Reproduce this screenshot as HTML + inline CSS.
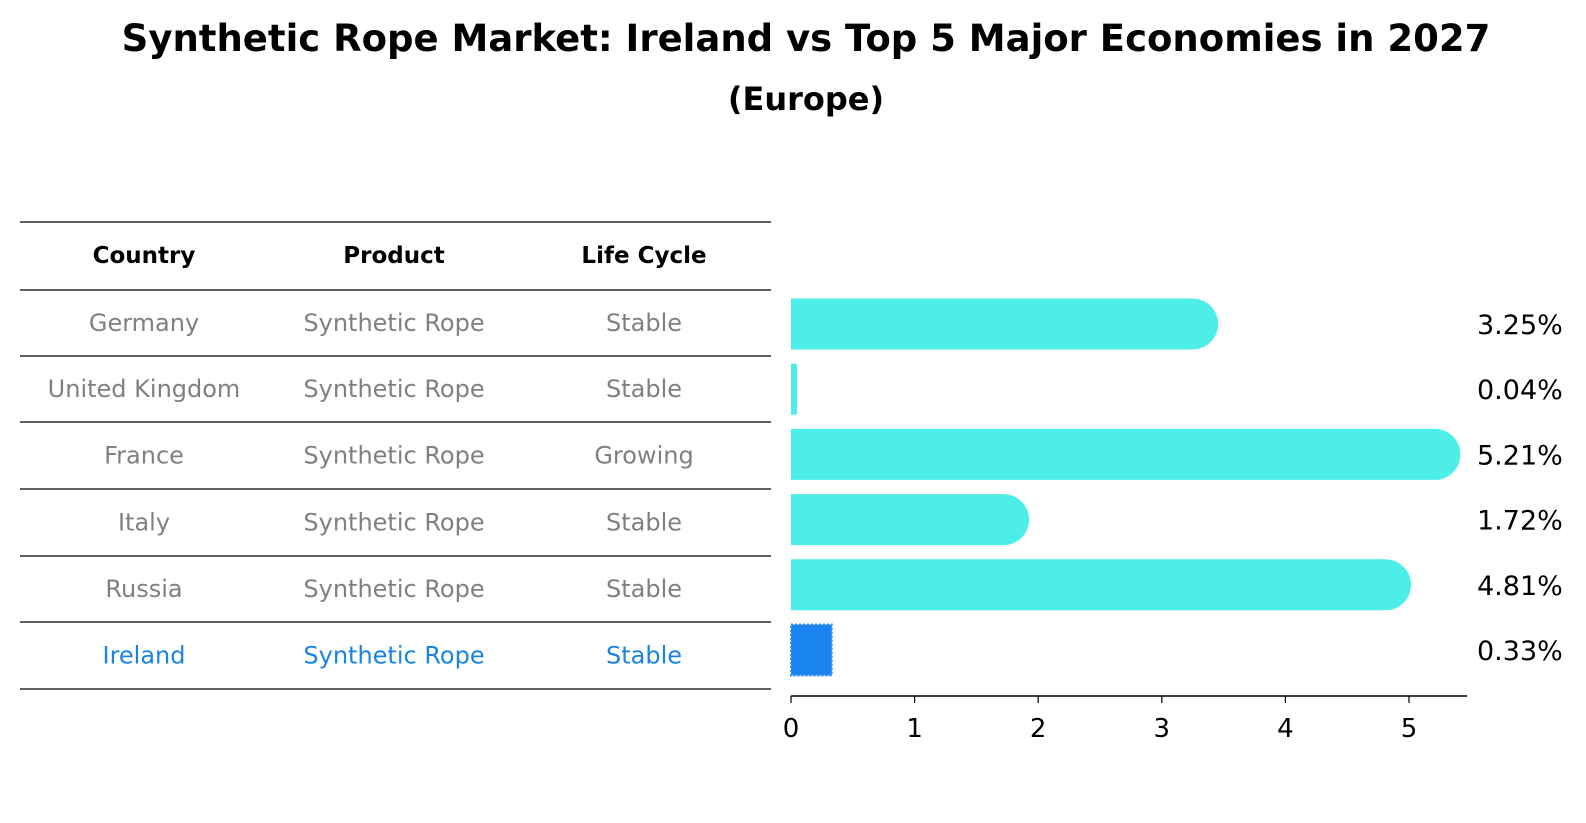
<!DOCTYPE html>
<html><head><meta charset="utf-8"><style>
body{margin:0;background:#fff;font-family:"DejaVu Sans","Liberation Sans",sans-serif;}
svg{display:block}
</style></head><body>
<svg id="c" width="1586" height="823" xmlns="http://www.w3.org/2000/svg">
<text x="806" y="51" text-anchor="middle" font-size="37" font-weight="bold">Synthetic Rope Market: Ireland vs Top 5 Major Economies in 2027</text>
<text x="806" y="110" text-anchor="middle" font-size="32" font-weight="bold">(Europe)</text>
<g id="table"></g>
<g id="bars"></g>
</svg>
<script>
const countries=["Germany","United Kingdom","France","Italy","Russia","Ireland"];
const products=["Synthetic Rope","Synthetic Rope","Synthetic Rope","Synthetic Rope","Synthetic Rope","Synthetic Rope"];
const lifecycles=["Stable","Stable","Growing","Stable","Stable","Stable"];
const values=[3.25,0.04,5.21,1.72,4.81,0.33];
const ticks=[0,1,2,3,4,5];
const NS="http://www.w3.org/2000/svg";
function mk(t,a,p){const e=document.createElementNS(NS,t);for(const k in a)e.setAttribute(k,a[k]);p.appendChild(e);return e;}
const tb=document.getElementById('table'),bg=document.getElementById('bars');
const lineYs=[222,290,356,422,489,556,622,689];
const colX=[144,394,644];
lineYs.forEach((y,i)=>{const l=mk('line',{x1:20,x2:771,y1:y,y2:y,stroke:'#000','stroke-width':1.2},tb);

});
["Country","Product","Life Cycle"].forEach((h,j)=>{const t=mk('text',{x:colX[j],y:263,'text-anchor':'middle','font-size':'23','font-weight':'bold'},tb);t.textContent=h;

});
const rowY=i=>(lineYs[i+1]+lineYs[i+2])/2+8;
countries.forEach((c,i)=>{const col=c==="Ireland"?"#1a85e0":"#808080";
[c,products[i],lifecycles[i]].forEach((v,j)=>{const t=mk('text',{x:colX[j],y:rowY(i),'text-anchor':'middle','font-size':'24',fill:col},tb);t.textContent=v;

});});
const x0=791,sx=123.6;const X=v=>x0+v*sx;
const bandY=i=>324+i*65.2;const bh=51;
values.forEach((v,i)=>{const cy=bandY(i);let el;
if(countries[i]==="Ireland"){el=mk('rect',{x:X(0),y:cy-bh/2,width:X(v)-X(0),height:bh,fill:'#1a85f0',stroke:'#3c8ee8','stroke-width':2,'stroke-dasharray':'2,2'},bg);}
else if(v<0.2){el=mk('rect',{x:X(0),y:cy-bh/2,width:X(v)-X(0)+1,height:bh,fill:'#4deee8'},bg);}
else{const xe=X(v),r=bh/2;el=mk('path',{d:`M${X(0)},${cy-r}H${xe}A${r},${r} 0 0 1 ${xe},${cy+r}H${X(0)}Z`,fill:'#4deee8'},bg);}


const t=mk('text',{x:1477,y:cy+10,'font-size':'27'},bg);t.textContent=v.toFixed(2)+'%';

});
const ax=mk('line',{x1:791,x2:1467,y1:696,y2:696,stroke:'#000','stroke-width':1.5},bg);


ticks.forEach(t=>{const l=mk('line',{x1:X(t),x2:X(t),y1:696,y2:703,stroke:'#000','stroke-width':1.2},bg);


const tx=mk('text',{x:X(t),y:737,'text-anchor':'middle','font-size':'26'},bg);tx.textContent=t;

});
</script>
</body></html>
